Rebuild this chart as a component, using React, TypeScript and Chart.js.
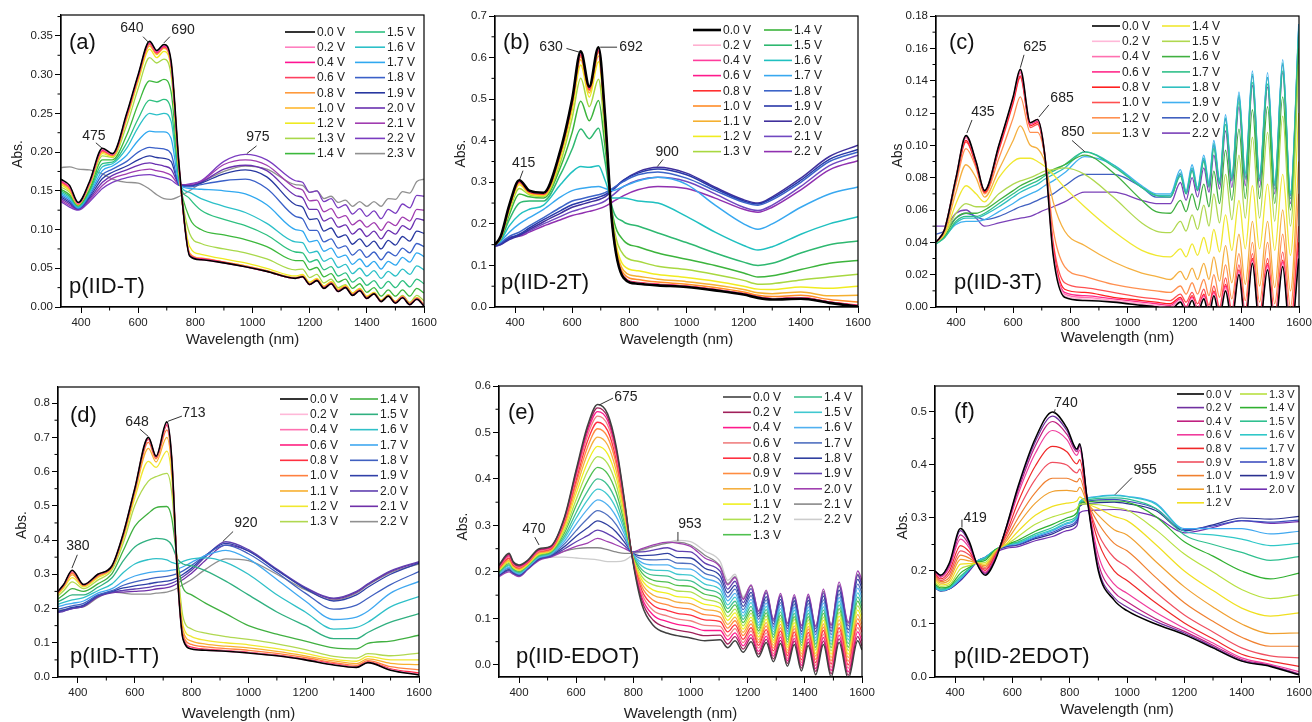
import React, { useEffect, useRef } from 'react';
import { Chart, registerables } from 'chart.js';
Chart.register(...registerables);

const FONT = '"Liberation Sans", Arial, Helvetica, sans-serif';

// ---------- shared axis ticks ----------
const X_TICKS = [400, 600, 800, 1000, 1200, 1400, 1600];
const X_MINOR = [500, 700, 900, 1100, 1300, 1500];

// ---------- (a) p(IID-T) ----------
const WL_A_VIS = [330, 360, 390, 430, 475, 510, 560, 600, 640, 665, 690, 715, 745, 780, 820, 900, 975, 1050, 1150];
const WL_A_NIR = [1175, 1200, 1225, 1250, 1275, 1300, 1325, 1350, 1375, 1400, 1425, 1450, 1475, 1500, 1525, 1550, 1575, 1600];
const V_A = ['0.0 V', '0.2 V', '0.4 V', '0.6 V', '0.8 V', '1.0 V', '1.2 V', '1.3 V', '1.4 V', '1.5 V', '1.6 V', '1.7 V', '1.8 V', '1.9 V', '2.0 V', '2.1 V', '2.2 V', '2.3 V'];
const ABS_A_VIS = [
  [0.165, 0.157, 0.135, 0.162, 0.205, 0.198, 0.250, 0.300, 0.343, 0.331, 0.339, 0.318, 0.175, 0.066, 0.061, 0.057, 0.052, 0.046, 0.037],
  [0.164, 0.156, 0.134, 0.161, 0.204, 0.197, 0.249, 0.299, 0.342, 0.330, 0.338, 0.316, 0.174, 0.067, 0.061, 0.057, 0.052, 0.046, 0.037],
  [0.163, 0.155, 0.134, 0.160, 0.203, 0.197, 0.248, 0.298, 0.341, 0.329, 0.337, 0.315, 0.173, 0.067, 0.062, 0.057, 0.052, 0.046, 0.037],
  [0.162, 0.154, 0.133, 0.160, 0.202, 0.196, 0.247, 0.297, 0.340, 0.328, 0.336, 0.314, 0.172, 0.068, 0.062, 0.058, 0.052, 0.046, 0.037],
  [0.161, 0.153, 0.133, 0.159, 0.201, 0.196, 0.246, 0.296, 0.339, 0.327, 0.335, 0.313, 0.171, 0.069, 0.063, 0.058, 0.053, 0.047, 0.038],
  [0.160, 0.152, 0.133, 0.159, 0.200, 0.195, 0.245, 0.295, 0.337, 0.326, 0.334, 0.312, 0.170, 0.070, 0.063, 0.058, 0.053, 0.047, 0.038],
  [0.158, 0.150, 0.132, 0.158, 0.198, 0.194, 0.242, 0.291, 0.333, 0.322, 0.330, 0.308, 0.168, 0.078, 0.068, 0.062, 0.057, 0.050, 0.040],
  [0.155, 0.148, 0.132, 0.156, 0.195, 0.193, 0.235, 0.282, 0.322, 0.315, 0.320, 0.300, 0.166, 0.095, 0.082, 0.075, 0.070, 0.062, 0.048],
  [0.152, 0.145, 0.131, 0.152, 0.190, 0.190, 0.222, 0.262, 0.292, 0.290, 0.294, 0.278, 0.163, 0.115, 0.100, 0.093, 0.087, 0.078, 0.060],
  [0.150, 0.143, 0.130, 0.150, 0.185, 0.187, 0.212, 0.243, 0.267, 0.265, 0.268, 0.255, 0.161, 0.140, 0.125, 0.113, 0.105, 0.093, 0.071],
  [0.148, 0.141, 0.129, 0.148, 0.181, 0.185, 0.205, 0.232, 0.250, 0.248, 0.250, 0.240, 0.160, 0.148, 0.140, 0.130, 0.122, 0.108, 0.084],
  [0.146, 0.139, 0.128, 0.146, 0.176, 0.182, 0.196, 0.215, 0.227, 0.226, 0.226, 0.218, 0.158, 0.153, 0.152, 0.150, 0.146, 0.132, 0.100],
  [0.144, 0.137, 0.127, 0.144, 0.171, 0.178, 0.188, 0.200, 0.206, 0.205, 0.204, 0.198, 0.157, 0.155, 0.158, 0.163, 0.165, 0.153, 0.117],
  [0.142, 0.135, 0.127, 0.142, 0.166, 0.174, 0.182, 0.190, 0.195, 0.193, 0.192, 0.188, 0.157, 0.156, 0.160, 0.172, 0.177, 0.168, 0.132],
  [0.140, 0.133, 0.126, 0.140, 0.161, 0.170, 0.177, 0.183, 0.186, 0.184, 0.182, 0.178, 0.158, 0.157, 0.161, 0.178, 0.183, 0.176, 0.144],
  [0.138, 0.131, 0.126, 0.138, 0.157, 0.166, 0.172, 0.176, 0.178, 0.176, 0.174, 0.170, 0.158, 0.158, 0.162, 0.184, 0.190, 0.183, 0.154],
  [0.136, 0.129, 0.125, 0.136, 0.153, 0.161, 0.167, 0.170, 0.171, 0.169, 0.167, 0.164, 0.157, 0.159, 0.163, 0.188, 0.197, 0.190, 0.163],
  [0.180, 0.181, 0.178, 0.177, 0.172, 0.165, 0.161, 0.160, 0.152, 0.145, 0.140, 0.139, 0.143, 0.150, 0.160, 0.175, 0.182, 0.178, 0.158],
];
const ABS_A_NIR = [
  [0.039, 0.029, 0.034, 0.024, 0.030, 0.020, 0.025, 0.015, 0.021, 0.011, 0.017, 0.007, 0.014, 0.005, 0.012, 0.003, 0.010, 0.001],
  [0.039, 0.029, 0.034, 0.024, 0.030, 0.020, 0.025, 0.015, 0.021, 0.011, 0.017, 0.007, 0.014, 0.005, 0.012, 0.003, 0.010, 0.001],
  [0.039, 0.029, 0.034, 0.025, 0.030, 0.020, 0.025, 0.015, 0.021, 0.011, 0.017, 0.007, 0.014, 0.005, 0.012, 0.003, 0.010, 0.002],
  [0.039, 0.029, 0.035, 0.025, 0.031, 0.021, 0.026, 0.016, 0.022, 0.012, 0.017, 0.007, 0.014, 0.006, 0.013, 0.004, 0.011, 0.002],
  [0.040, 0.030, 0.035, 0.025, 0.031, 0.021, 0.026, 0.016, 0.022, 0.012, 0.018, 0.008, 0.015, 0.006, 0.013, 0.004, 0.011, 0.002],
  [0.040, 0.030, 0.036, 0.026, 0.032, 0.022, 0.027, 0.017, 0.023, 0.013, 0.018, 0.008, 0.015, 0.007, 0.014, 0.005, 0.012, 0.003],
  [0.042, 0.032, 0.037, 0.027, 0.033, 0.023, 0.028, 0.018, 0.024, 0.014, 0.019, 0.009, 0.016, 0.007, 0.013, 0.004, 0.012, 0.003],
  [0.049, 0.038, 0.042, 0.031, 0.036, 0.025, 0.029, 0.018, 0.024, 0.013, 0.019, 0.008, 0.016, 0.007, 0.015, 0.006, 0.015, 0.008],
  [0.060, 0.048, 0.051, 0.039, 0.043, 0.032, 0.036, 0.024, 0.030, 0.019, 0.025, 0.014, 0.022, 0.014, 0.022, 0.014, 0.024, 0.018],
  [0.070, 0.058, 0.061, 0.048, 0.052, 0.040, 0.044, 0.032, 0.038, 0.028, 0.034, 0.024, 0.033, 0.025, 0.034, 0.026, 0.036, 0.030],
  [0.083, 0.070, 0.072, 0.059, 0.063, 0.051, 0.055, 0.043, 0.050, 0.040, 0.047, 0.037, 0.046, 0.040, 0.049, 0.042, 0.053, 0.048],
  [0.098, 0.084, 0.086, 0.072, 0.076, 0.064, 0.067, 0.055, 0.062, 0.052, 0.059, 0.049, 0.059, 0.054, 0.064, 0.058, 0.070, 0.065],
  [0.114, 0.099, 0.099, 0.084, 0.088, 0.076, 0.079, 0.067, 0.074, 0.064, 0.071, 0.061, 0.071, 0.066, 0.076, 0.070, 0.082, 0.078],
  [0.129, 0.113, 0.114, 0.098, 0.102, 0.090, 0.093, 0.081, 0.088, 0.078, 0.085, 0.075, 0.086, 0.080, 0.091, 0.085, 0.098, 0.095],
  [0.141, 0.126, 0.126, 0.111, 0.115, 0.103, 0.106, 0.094, 0.101, 0.091, 0.098, 0.088, 0.099, 0.094, 0.105, 0.100, 0.114, 0.112],
  [0.151, 0.137, 0.138, 0.123, 0.127, 0.115, 0.118, 0.106, 0.112, 0.103, 0.109, 0.099, 0.110, 0.105, 0.116, 0.111, 0.126, 0.125],
  [0.161, 0.148, 0.150, 0.136, 0.140, 0.128, 0.132, 0.120, 0.127, 0.117, 0.124, 0.114, 0.126, 0.121, 0.133, 0.128, 0.144, 0.143],
  [0.157, 0.148, 0.150, 0.140, 0.143, 0.135, 0.138, 0.130, 0.136, 0.130, 0.136, 0.130, 0.140, 0.139, 0.149, 0.147, 0.162, 0.165],
];
const COL_A = ['#000000', '#ff80c0', '#ff1493', '#ff4060', '#ff9a3c', '#ffb830', '#eeea20', '#a8d84a', '#3cb83c', '#2ec080', '#2cc0c8', '#30a8f0', '#3a60c8', '#2838a0', '#6a30b0', '#a03cb0', '#7a3cc0', '#909090'];
const YT_A = [0, 0.05, 0.1, 0.15, 0.2, 0.25, 0.3, 0.35];
const ANN_A = [
  { t: '640', x: 578, y: 0.3596, x1: 617, y1: 0.349, x2: 638, y2: 0.341 },
  { t: '690', x: 757, y: 0.357, x1: 711, y1: 0.349, x2: 690, y2: 0.341 },
  { t: '475', x: 445, y: 0.221, x1: 452, y1: 0.212, x2: 474, y2: 0.205 },
  { t: '975', x: 1019, y: 0.2196, x1: 1014, y1: 0.208, x2: 980, y2: 0.198 },
];

// ---------- (b) p(IID-2T) ----------
const WL_B = [330, 350, 380, 415, 450, 500, 560, 600, 630, 660, 692, 715, 740, 780, 830, 900, 1000, 1100, 1200, 1250, 1300, 1400, 1500, 1600];
const V_B = ['0.0 V', '0.2 V', '0.4 V', '0.6 V', '0.8 V', '1.0 V', '1.1 V', '1.2 V', '1.3 V', '1.4 V', '1.5 V', '1.6 V', '1.7 V', '1.8 V', '1.9 V', '2.0 V', '2.1 V', '2.2 V'];
const ABS_B = [
  [0.150, 0.170, 0.245, 0.305, 0.280, 0.275, 0.380, 0.500, 0.615, 0.530, 0.625, 0.460, 0.200, 0.070, 0.056, 0.052, 0.048, 0.040, 0.030, 0.022, 0.018, 0.020, 0.010, 0.001],
  [0.150, 0.169, 0.244, 0.304, 0.279, 0.274, 0.379, 0.499, 0.613, 0.529, 0.623, 0.458, 0.200, 0.071, 0.057, 0.053, 0.049, 0.041, 0.031, 0.023, 0.019, 0.021, 0.011, 0.002],
  [0.150, 0.169, 0.243, 0.303, 0.279, 0.274, 0.378, 0.497, 0.611, 0.528, 0.621, 0.456, 0.200, 0.072, 0.058, 0.054, 0.049, 0.041, 0.031, 0.023, 0.019, 0.021, 0.011, 0.003],
  [0.150, 0.168, 0.242, 0.302, 0.278, 0.273, 0.377, 0.495, 0.609, 0.526, 0.619, 0.454, 0.200, 0.072, 0.058, 0.054, 0.050, 0.042, 0.032, 0.024, 0.020, 0.022, 0.012, 0.003],
  [0.150, 0.168, 0.241, 0.301, 0.277, 0.272, 0.375, 0.493, 0.606, 0.524, 0.616, 0.452, 0.200, 0.073, 0.059, 0.055, 0.050, 0.042, 0.032, 0.024, 0.020, 0.022, 0.012, 0.004],
  [0.150, 0.167, 0.240, 0.300, 0.276, 0.271, 0.372, 0.490, 0.602, 0.521, 0.612, 0.450, 0.205, 0.080, 0.066, 0.060, 0.055, 0.047, 0.036, 0.028, 0.025, 0.028, 0.018, 0.012],
  [0.150, 0.167, 0.238, 0.298, 0.275, 0.270, 0.368, 0.484, 0.595, 0.515, 0.604, 0.446, 0.208, 0.088, 0.074, 0.067, 0.061, 0.053, 0.042, 0.034, 0.032, 0.036, 0.027, 0.028],
  [0.150, 0.166, 0.235, 0.294, 0.273, 0.268, 0.362, 0.474, 0.582, 0.505, 0.590, 0.438, 0.212, 0.100, 0.087, 0.078, 0.071, 0.062, 0.050, 0.043, 0.042, 0.048, 0.045, 0.050],
  [0.150, 0.165, 0.230, 0.285, 0.270, 0.266, 0.350, 0.455, 0.550, 0.482, 0.548, 0.415, 0.218, 0.125, 0.110, 0.098, 0.090, 0.078, 0.064, 0.055, 0.056, 0.065, 0.072, 0.079],
  [0.150, 0.164, 0.222, 0.272, 0.265, 0.262, 0.338, 0.420, 0.495, 0.448, 0.497, 0.385, 0.228, 0.160, 0.145, 0.130, 0.115, 0.100, 0.082, 0.072, 0.075, 0.090, 0.105, 0.112],
  [0.150, 0.162, 0.210, 0.250, 0.255, 0.255, 0.320, 0.380, 0.428, 0.405, 0.430, 0.350, 0.240, 0.205, 0.195, 0.178, 0.155, 0.130, 0.108, 0.100, 0.105, 0.130, 0.150, 0.159],
  [0.150, 0.160, 0.195, 0.222, 0.235, 0.245, 0.295, 0.325, 0.338, 0.336, 0.340, 0.305, 0.262, 0.262, 0.255, 0.250, 0.218, 0.180, 0.148, 0.137, 0.145, 0.175, 0.200, 0.217],
  [0.150, 0.158, 0.180, 0.200, 0.215, 0.235, 0.265, 0.280, 0.285, 0.288, 0.290, 0.285, 0.280, 0.290, 0.303, 0.312, 0.295, 0.245, 0.200, 0.187, 0.200, 0.240, 0.272, 0.289],
  [0.150, 0.155, 0.170, 0.180, 0.195, 0.215, 0.240, 0.255, 0.260, 0.265, 0.270, 0.275, 0.285, 0.302, 0.318, 0.325, 0.310, 0.280, 0.252, 0.245, 0.258, 0.300, 0.350, 0.373],
  [0.148, 0.152, 0.165, 0.175, 0.190, 0.210, 0.232, 0.246, 0.252, 0.258, 0.264, 0.270, 0.282, 0.305, 0.322, 0.332, 0.318, 0.285, 0.255, 0.248, 0.262, 0.305, 0.355, 0.379],
  [0.146, 0.150, 0.162, 0.172, 0.186, 0.205, 0.226, 0.240, 0.246, 0.252, 0.258, 0.265, 0.280, 0.305, 0.325, 0.336, 0.322, 0.288, 0.258, 0.250, 0.265, 0.310, 0.362, 0.389],
  [0.146, 0.150, 0.165, 0.172, 0.183, 0.200, 0.218, 0.230, 0.236, 0.242, 0.248, 0.255, 0.268, 0.290, 0.305, 0.312, 0.302, 0.272, 0.240, 0.232, 0.245, 0.290, 0.340, 0.365],
  [0.148, 0.152, 0.168, 0.170, 0.180, 0.195, 0.210, 0.220, 0.225, 0.230, 0.236, 0.242, 0.252, 0.268, 0.282, 0.290, 0.285, 0.262, 0.235, 0.228, 0.240, 0.282, 0.330, 0.352],
];
const COL_B = ['#000000', '#ffb0d0', '#ff3c9c', '#ff1a8c', '#ff3030', '#ff8c28', '#f5b030', '#f0ec20', '#a8d840', '#3cb43c', '#2eb870', '#20c0c0', '#38a8f0', '#3c64c8', '#2838a8', '#40309c', '#7048c0', '#9030b0'];
const YT_B = [0, 0.1, 0.2, 0.3, 0.4, 0.5, 0.6, 0.7];
const ANN_B = [
  { t: '630', x: 526, y: 0.625, x1: 580, y1: 0.622, x2: 625, y2: 0.613 },
  { t: '692', x: 806, y: 0.625, x1: 757, y1: 0.625, x2: 698, y2: 0.625 },
  { t: '415', x: 430, y: 0.346, x1: 428, y1: 0.328, x2: 417, y2: 0.308 },
  { t: '900', x: 932, y: 0.373, x1: 918, y1: 0.355, x2: 898, y2: 0.338 },
];

// ---------- (c) p(IID-3T) ----------
const WL_C_VIS = [330, 360, 400, 435, 470, 500, 550, 600, 625, 660, 685, 710, 740, 780, 850, 950, 1050, 1100];
const WL_C_NIR = [1150, 1185, 1205, 1226, 1245, 1267, 1285, 1302, 1322, 1343, 1365, 1390, 1412, 1437, 1462, 1490, 1515, 1543, 1570, 1599];
const V_C = ['0.0 V', '0.2 V', '0.4 V', '0.6 V', '0.8 V', '1.0 V', '1.2 V', '1.3 V', '1.4 V', '1.5 V', '1.6 V', '1.7 V', '1.8 V', '1.9 V', '2.0 V', '2.2 V'];
const ABS_C_VIS = [
  [0.040, 0.048, 0.080, 0.106, 0.090, 0.072, 0.100, 0.130, 0.147, 0.114, 0.116, 0.095, 0.032, 0.006, 0.004, 0.003, 0.001, 0.000],
  [0.040, 0.048, 0.080, 0.106, 0.090, 0.072, 0.100, 0.130, 0.147, 0.114, 0.116, 0.095, 0.033, 0.007, 0.005, 0.004, 0.002, 0.001],
  [0.040, 0.048, 0.080, 0.105, 0.090, 0.072, 0.100, 0.129, 0.146, 0.114, 0.116, 0.095, 0.034, 0.008, 0.006, 0.004, 0.002, 0.001],
  [0.040, 0.048, 0.080, 0.105, 0.089, 0.072, 0.099, 0.129, 0.145, 0.113, 0.115, 0.095, 0.035, 0.009, 0.007, 0.005, 0.003, 0.002],
  [0.040, 0.048, 0.079, 0.103, 0.088, 0.071, 0.098, 0.127, 0.143, 0.112, 0.114, 0.094, 0.037, 0.011, 0.009, 0.006, 0.004, 0.003],
  [0.040, 0.048, 0.079, 0.102, 0.088, 0.071, 0.097, 0.126, 0.142, 0.111, 0.113, 0.094, 0.040, 0.015, 0.012, 0.009, 0.006, 0.005],
  [0.040, 0.047, 0.076, 0.098, 0.086, 0.070, 0.092, 0.117, 0.130, 0.108, 0.108, 0.094, 0.048, 0.025, 0.019, 0.014, 0.011, 0.010],
  [0.040, 0.046, 0.071, 0.088, 0.080, 0.068, 0.085, 0.103, 0.112, 0.100, 0.098, 0.090, 0.065, 0.047, 0.038, 0.028, 0.021, 0.019],
  [0.040, 0.045, 0.064, 0.075, 0.070, 0.065, 0.080, 0.090, 0.092, 0.092, 0.090, 0.087, 0.082, 0.074, 0.062, 0.047, 0.035, 0.032],
  [0.040, 0.045, 0.058, 0.064, 0.062, 0.062, 0.070, 0.076, 0.078, 0.080, 0.082, 0.084, 0.085, 0.086, 0.082, 0.068, 0.052, 0.047],
  [0.040, 0.044, 0.055, 0.058, 0.058, 0.060, 0.066, 0.072, 0.075, 0.078, 0.080, 0.082, 0.085, 0.088, 0.094, 0.083, 0.066, 0.059],
  [0.039, 0.043, 0.053, 0.056, 0.056, 0.058, 0.064, 0.070, 0.073, 0.076, 0.078, 0.081, 0.084, 0.088, 0.096, 0.087, 0.074, 0.069],
  [0.039, 0.043, 0.052, 0.055, 0.055, 0.057, 0.062, 0.068, 0.071, 0.074, 0.076, 0.079, 0.082, 0.086, 0.096, 0.088, 0.074, 0.069],
  [0.041, 0.044, 0.051, 0.053, 0.053, 0.054, 0.059, 0.064, 0.067, 0.070, 0.072, 0.075, 0.078, 0.083, 0.093, 0.088, 0.075, 0.070],
  [0.045, 0.047, 0.055, 0.058, 0.056, 0.054, 0.056, 0.060, 0.062, 0.064, 0.066, 0.068, 0.070, 0.075, 0.082, 0.082, 0.074, 0.068],
  [0.050, 0.050, 0.058, 0.060, 0.055, 0.050, 0.052, 0.054, 0.055, 0.056, 0.058, 0.060, 0.062, 0.065, 0.071, 0.071, 0.066, 0.064],
];
const ABS_C_NIR = [
  [-0.002, 0.003, -0.003, 0.004, -0.004, 0.005, -0.005, 0.007, -0.006, 0.010, -0.008, 0.020, -0.010, 0.027, -0.012, 0.023, -0.015, 0.025, -0.020, 0.030],
  [-0.001, 0.004, -0.002, 0.005, -0.003, 0.006, -0.004, 0.008, -0.005, 0.011, -0.007, 0.021, -0.009, 0.028, -0.011, 0.024, -0.014, 0.026, -0.019, 0.032],
  [0.000, 0.004, -0.001, 0.005, -0.002, 0.006, -0.003, 0.008, -0.004, 0.012, -0.006, 0.022, -0.008, 0.028, -0.010, 0.025, -0.013, 0.027, -0.018, 0.034],
  [0.001, 0.005, 0.000, 0.006, -0.001, 0.007, -0.002, 0.009, -0.003, 0.013, -0.005, 0.022, -0.007, 0.029, -0.009, 0.026, -0.011, 0.028, -0.016, 0.036],
  [0.002, 0.006, 0.000, 0.007, -0.001, 0.008, -0.002, 0.010, -0.003, 0.014, -0.005, 0.023, -0.006, 0.030, -0.008, 0.027, -0.010, 0.029, -0.014, 0.040],
  [0.004, 0.008, 0.003, 0.009, 0.002, 0.011, 0.001, 0.013, 0.000, 0.018, -0.002, 0.026, -0.003, 0.033, -0.004, 0.030, -0.006, 0.034, -0.010, 0.050],
  [0.009, 0.013, 0.008, 0.015, 0.008, 0.017, 0.007, 0.020, 0.006, 0.026, 0.005, 0.033, 0.004, 0.040, 0.003, 0.040, 0.002, 0.045, 0.000, 0.070],
  [0.017, 0.022, 0.017, 0.024, 0.017, 0.027, 0.017, 0.031, 0.016, 0.038, 0.015, 0.045, 0.014, 0.053, 0.013, 0.053, 0.012, 0.060, 0.010, 0.090],
  [0.031, 0.036, 0.031, 0.039, 0.032, 0.043, 0.033, 0.048, 0.034, 0.057, 0.035, 0.066, 0.036, 0.075, 0.036, 0.076, 0.035, 0.082, 0.032, 0.120],
  [0.046, 0.053, 0.047, 0.057, 0.048, 0.063, 0.050, 0.070, 0.052, 0.082, 0.054, 0.094, 0.055, 0.105, 0.055, 0.108, 0.053, 0.118, 0.050, 0.150],
  [0.058, 0.066, 0.059, 0.070, 0.060, 0.076, 0.062, 0.084, 0.064, 0.097, 0.066, 0.110, 0.067, 0.122, 0.067, 0.124, 0.064, 0.130, 0.060, 0.160],
  [0.068, 0.081, 0.070, 0.084, 0.072, 0.090, 0.074, 0.098, 0.076, 0.113, 0.078, 0.127, 0.079, 0.139, 0.078, 0.138, 0.073, 0.146, 0.067, 0.168],
  [0.069, 0.083, 0.071, 0.086, 0.073, 0.092, 0.076, 0.101, 0.078, 0.117, 0.080, 0.131, 0.082, 0.144, 0.080, 0.142, 0.076, 0.151, 0.070, 0.172],
  [0.070, 0.085, 0.072, 0.088, 0.074, 0.094, 0.077, 0.103, 0.079, 0.119, 0.081, 0.133, 0.083, 0.146, 0.081, 0.145, 0.077, 0.153, 0.071, 0.175],
  [0.068, 0.082, 0.070, 0.085, 0.072, 0.091, 0.075, 0.100, 0.077, 0.116, 0.079, 0.130, 0.080, 0.143, 0.079, 0.142, 0.075, 0.150, 0.069, 0.172],
  [0.064, 0.077, 0.066, 0.080, 0.068, 0.086, 0.071, 0.094, 0.073, 0.109, 0.074, 0.124, 0.075, 0.137, 0.074, 0.136, 0.070, 0.145, 0.064, 0.165],
];
const COL_C = ['#000000', '#ffb8d8', '#ff70b0', '#ff2a8a', '#ff2020', '#ff5050', '#ff9050', '#f5b040', '#f0e830', '#b0d850', '#40b040', '#30c08a', '#30c0c0', '#40b0f0', '#4060c0', '#7a40b8'];
const YT_C = [0, 0.02, 0.04, 0.06, 0.08, 0.1, 0.12, 0.14, 0.16, 0.18];
const ANN_C = [
  { t: '625', x: 676, y: 0.161, x1: 638, y1: 0.156, x2: 625, y2: 0.148 },
  { t: '685', x: 771, y: 0.129, x1: 725, y1: 0.125, x2: 690, y2: 0.1175 },
  { t: '435', x: 494, y: 0.1206, x1: 456, y1: 0.1157, x2: 438, y2: 0.1076 },
  { t: '850', x: 809, y: 0.108, x1: 806, y1: 0.103, x2: 851, y2: 0.096 },
];

// ---------- (d) p(IID-TT) ----------
const WL_D = [330, 350, 380, 420, 470, 520, 560, 600, 648, 675, 713, 730, 750, 770, 800, 850, 920, 1000, 1100, 1200, 1300, 1380, 1420, 1500, 1600];
const V_D = ['0.0 V', '0.2 V', '0.4 V', '0.6 V', '0.8 V', '1.0 V', '1.1 V', '1.2 V', '1.3 V', '1.4 V', '1.5 V', '1.6 V', '1.7 V', '1.8 V', '1.9 V', '2.0 V', '2.1 V', '2.2 V'];
const ABS_D = [
  [0.250, 0.270, 0.312, 0.270, 0.300, 0.325, 0.420, 0.550, 0.700, 0.645, 0.745, 0.640, 0.300, 0.110, 0.082, 0.078, 0.075, 0.070, 0.062, 0.050, 0.035, 0.028, 0.042, 0.020, 0.006],
  [0.250, 0.270, 0.311, 0.270, 0.300, 0.325, 0.420, 0.550, 0.699, 0.645, 0.743, 0.640, 0.300, 0.111, 0.083, 0.078, 0.075, 0.070, 0.062, 0.050, 0.036, 0.028, 0.042, 0.021, 0.007],
  [0.249, 0.269, 0.310, 0.270, 0.299, 0.324, 0.419, 0.549, 0.698, 0.644, 0.741, 0.638, 0.300, 0.112, 0.084, 0.079, 0.076, 0.071, 0.063, 0.051, 0.036, 0.029, 0.043, 0.021, 0.007],
  [0.249, 0.269, 0.309, 0.270, 0.299, 0.324, 0.418, 0.548, 0.696, 0.643, 0.738, 0.636, 0.300, 0.113, 0.085, 0.080, 0.076, 0.071, 0.063, 0.051, 0.037, 0.029, 0.043, 0.022, 0.008],
  [0.248, 0.268, 0.308, 0.269, 0.298, 0.323, 0.417, 0.547, 0.694, 0.642, 0.735, 0.634, 0.302, 0.115, 0.087, 0.081, 0.077, 0.072, 0.064, 0.052, 0.038, 0.030, 0.044, 0.024, 0.012],
  [0.246, 0.266, 0.303, 0.268, 0.296, 0.322, 0.414, 0.542, 0.685, 0.637, 0.722, 0.625, 0.305, 0.125, 0.095, 0.088, 0.083, 0.078, 0.069, 0.057, 0.042, 0.034, 0.048, 0.030, 0.021],
  [0.244, 0.264, 0.298, 0.266, 0.294, 0.320, 0.410, 0.535, 0.668, 0.628, 0.700, 0.610, 0.310, 0.135, 0.105, 0.096, 0.090, 0.085, 0.075, 0.062, 0.047, 0.039, 0.053, 0.040, 0.036],
  [0.241, 0.260, 0.290, 0.263, 0.290, 0.318, 0.404, 0.522, 0.630, 0.612, 0.660, 0.585, 0.318, 0.150, 0.118, 0.107, 0.100, 0.094, 0.083, 0.069, 0.052, 0.046, 0.060, 0.050, 0.050],
  [0.236, 0.252, 0.278, 0.258, 0.283, 0.313, 0.392, 0.500, 0.572, 0.585, 0.595, 0.540, 0.330, 0.175, 0.140, 0.128, 0.118, 0.110, 0.097, 0.080, 0.060, 0.055, 0.068, 0.062, 0.070],
  [0.228, 0.240, 0.258, 0.250, 0.272, 0.302, 0.370, 0.440, 0.478, 0.495, 0.498, 0.465, 0.340, 0.260, 0.240, 0.215, 0.185, 0.150, 0.125, 0.105, 0.085, 0.082, 0.098, 0.105, 0.122],
  [0.220, 0.228, 0.240, 0.240, 0.262, 0.290, 0.340, 0.380, 0.400, 0.405, 0.400, 0.385, 0.345, 0.330, 0.325, 0.310, 0.280, 0.240, 0.190, 0.150, 0.112, 0.112, 0.130, 0.160, 0.185],
  [0.212, 0.218, 0.225, 0.232, 0.252, 0.272, 0.305, 0.330, 0.343, 0.346, 0.342, 0.335, 0.330, 0.338, 0.345, 0.348, 0.335, 0.300, 0.240, 0.190, 0.140, 0.145, 0.160, 0.205, 0.235],
  [0.205, 0.210, 0.215, 0.222, 0.245, 0.258, 0.280, 0.295, 0.305, 0.308, 0.310, 0.312, 0.315, 0.322, 0.335, 0.355, 0.370, 0.345, 0.285, 0.222, 0.168, 0.175, 0.192, 0.245, 0.279],
  [0.198, 0.202, 0.208, 0.215, 0.240, 0.252, 0.268, 0.278, 0.286, 0.290, 0.294, 0.297, 0.302, 0.310, 0.326, 0.356, 0.385, 0.360, 0.305, 0.245, 0.198, 0.210, 0.230, 0.270, 0.308],
  [0.192, 0.196, 0.203, 0.210, 0.238, 0.250, 0.260, 0.266, 0.272, 0.276, 0.280, 0.283, 0.290, 0.300, 0.318, 0.355, 0.390, 0.368, 0.312, 0.258, 0.222, 0.240, 0.262, 0.300, 0.333],
  [0.188, 0.192, 0.200, 0.207, 0.236, 0.248, 0.253, 0.257, 0.262, 0.266, 0.270, 0.274, 0.282, 0.293, 0.312, 0.352, 0.395, 0.372, 0.315, 0.262, 0.230, 0.250, 0.272, 0.310, 0.337],
  [0.190, 0.193, 0.200, 0.206, 0.234, 0.246, 0.248, 0.250, 0.253, 0.257, 0.261, 0.265, 0.273, 0.285, 0.303, 0.342, 0.385, 0.368, 0.313, 0.260, 0.228, 0.248, 0.270, 0.308, 0.335],
  [0.195, 0.197, 0.202, 0.205, 0.232, 0.248, 0.245, 0.242, 0.242, 0.245, 0.248, 0.252, 0.260, 0.270, 0.285, 0.315, 0.345, 0.340, 0.300, 0.255, 0.225, 0.245, 0.268, 0.305, 0.330],
];
const COL_D = ['#000000', '#ffb8d8', '#ff70b0', '#ff2080', '#ff3040', '#ff8040', '#f8b030', '#f0e830', '#b0d850', '#40b040', '#30b080', '#30c0c8', '#40a8f0', '#4060c0', '#3040a8', '#6040b0', '#7030a8', '#909090'];
const YT_D = [0, 0.1, 0.2, 0.3, 0.4, 0.5, 0.6, 0.7, 0.8];
const ANN_D = [
  { t: '648', x: 608, y: 0.744, x1: 618, y1: 0.724, x2: 647, y2: 0.703 },
  { t: '713', x: 808, y: 0.771, x1: 766, y1: 0.762, x2: 717, y2: 0.747 },
  { t: '380', x: 400, y: 0.381, x1: 398, y1: 0.357, x2: 379, y2: 0.318 },
  { t: '920', x: 991, y: 0.448, x1: 946, y1: 0.425, x2: 910, y2: 0.396 },
];

// ---------- (e) p(IID-EDOT) ----------
const WL_E_VIS = [330, 365, 380, 400, 430, 470, 510, 560, 600, 640, 675, 710, 740, 770, 795, 830, 870, 920, 953, 1000, 1050];
const WL_E_NIR = [1104, 1130, 1156, 1184, 1212, 1238, 1265, 1290, 1315, 1339, 1363, 1388, 1412, 1438, 1465, 1492, 1520, 1552, 1585, 1600];
const V_E = ['0.0 V', '0.2 V', '0.4 V', '0.6 V', '0.8 V', '0.9 V', '1.0 V', '1.1 V', '1.2 V', '1.3 V', '1.4 V', '1.5 V', '1.6 V', '1.7 V', '1.8 V', '1.9 V', '2.0 V', '2.1 V', '2.2 V'];
const ABS_E_VIS = [
  [0.215, 0.240, 0.222, 0.215, 0.225, 0.250, 0.255, 0.320, 0.420, 0.515, 0.560, 0.540, 0.470, 0.350, 0.235, 0.130, 0.085, 0.068, 0.063, 0.058, 0.052],
  [0.213, 0.238, 0.220, 0.213, 0.224, 0.248, 0.254, 0.318, 0.416, 0.509, 0.553, 0.533, 0.465, 0.348, 0.236, 0.138, 0.096, 0.080, 0.075, 0.070, 0.063],
  [0.212, 0.235, 0.219, 0.212, 0.222, 0.247, 0.252, 0.316, 0.411, 0.502, 0.545, 0.526, 0.459, 0.345, 0.236, 0.145, 0.107, 0.093, 0.087, 0.083, 0.074],
  [0.210, 0.233, 0.217, 0.210, 0.221, 0.245, 0.251, 0.313, 0.406, 0.493, 0.535, 0.516, 0.452, 0.341, 0.237, 0.153, 0.117, 0.105, 0.099, 0.095, 0.085],
  [0.209, 0.230, 0.215, 0.209, 0.220, 0.244, 0.249, 0.310, 0.398, 0.482, 0.522, 0.504, 0.442, 0.337, 0.237, 0.160, 0.128, 0.117, 0.111, 0.107, 0.097],
  [0.207, 0.228, 0.214, 0.207, 0.219, 0.242, 0.248, 0.306, 0.390, 0.469, 0.508, 0.490, 0.432, 0.332, 0.238, 0.168, 0.139, 0.129, 0.123, 0.120, 0.108],
  [0.206, 0.225, 0.212, 0.206, 0.218, 0.241, 0.246, 0.302, 0.380, 0.454, 0.490, 0.473, 0.418, 0.326, 0.238, 0.175, 0.150, 0.142, 0.135, 0.132, 0.119],
  [0.204, 0.223, 0.210, 0.204, 0.216, 0.239, 0.245, 0.297, 0.369, 0.436, 0.470, 0.454, 0.404, 0.319, 0.239, 0.183, 0.161, 0.154, 0.147, 0.144, 0.130],
  [0.203, 0.220, 0.209, 0.203, 0.215, 0.238, 0.244, 0.291, 0.356, 0.417, 0.448, 0.433, 0.388, 0.311, 0.239, 0.190, 0.172, 0.166, 0.159, 0.157, 0.141],
  [0.201, 0.218, 0.207, 0.201, 0.214, 0.236, 0.242, 0.285, 0.343, 0.396, 0.425, 0.411, 0.371, 0.303, 0.240, 0.198, 0.182, 0.178, 0.171, 0.169, 0.152],
  [0.199, 0.215, 0.205, 0.199, 0.213, 0.234, 0.241, 0.278, 0.328, 0.374, 0.400, 0.387, 0.352, 0.294, 0.240, 0.205, 0.193, 0.191, 0.183, 0.181, 0.163],
  [0.198, 0.213, 0.203, 0.198, 0.211, 0.233, 0.239, 0.273, 0.316, 0.355, 0.378, 0.366, 0.336, 0.287, 0.241, 0.213, 0.204, 0.203, 0.195, 0.193, 0.174],
  [0.196, 0.210, 0.202, 0.196, 0.210, 0.231, 0.238, 0.267, 0.303, 0.335, 0.355, 0.344, 0.319, 0.279, 0.241, 0.220, 0.215, 0.215, 0.207, 0.206, 0.186],
  [0.195, 0.208, 0.200, 0.195, 0.209, 0.230, 0.236, 0.261, 0.289, 0.315, 0.332, 0.322, 0.302, 0.271, 0.242, 0.228, 0.226, 0.227, 0.219, 0.218, 0.197],
  [0.193, 0.205, 0.198, 0.193, 0.208, 0.228, 0.235, 0.255, 0.277, 0.295, 0.310, 0.301, 0.286, 0.263, 0.242, 0.235, 0.236, 0.240, 0.231, 0.230, 0.208],
  [0.192, 0.203, 0.197, 0.192, 0.206, 0.227, 0.233, 0.250, 0.265, 0.278, 0.290, 0.282, 0.271, 0.256, 0.243, 0.243, 0.247, 0.252, 0.245, 0.243, 0.219],
  [0.190, 0.200, 0.195, 0.190, 0.205, 0.225, 0.232, 0.245, 0.255, 0.262, 0.272, 0.265, 0.258, 0.250, 0.243, 0.250, 0.258, 0.264, 0.262, 0.255, 0.230],
  [0.192, 0.205, 0.198, 0.195, 0.210, 0.228, 0.235, 0.245, 0.250, 0.252, 0.252, 0.248, 0.243, 0.240, 0.240, 0.248, 0.255, 0.262, 0.264, 0.258, 0.236],
  [0.200, 0.208, 0.205, 0.205, 0.215, 0.228, 0.232, 0.232, 0.230, 0.228, 0.226, 0.222, 0.222, 0.225, 0.235, 0.245, 0.255, 0.263, 0.268, 0.265, 0.245],
];
const ABS_E_NIR = [
  [0.054, 0.037, 0.052, 0.027, 0.050, 0.017, 0.048, 0.007, 0.046, -0.003, 0.044, -0.013, 0.042, -0.021, 0.044, -0.026, 0.048, -0.030, 0.052, 0.032],
  [0.064, 0.045, 0.061, 0.034, 0.058, 0.023, 0.055, 0.013, 0.053, 0.003, 0.051, -0.007, 0.049, -0.014, 0.051, -0.019, 0.056, -0.022, 0.061, 0.041],
  [0.074, 0.054, 0.069, 0.041, 0.065, 0.029, 0.062, 0.019, 0.060, 0.009, 0.057, -0.001, 0.056, -0.008, 0.059, -0.012, 0.064, -0.015, 0.071, 0.051],
  [0.083, 0.062, 0.078, 0.048, 0.073, 0.036, 0.069, 0.024, 0.066, 0.014, 0.064, 0.005, 0.063, -0.001, 0.066, -0.005, 0.072, -0.007, 0.080, 0.060],
  [0.093, 0.071, 0.086, 0.055, 0.080, 0.042, 0.076, 0.030, 0.073, 0.020, 0.071, 0.011, 0.070, 0.005, 0.074, 0.002, 0.080, 0.000, 0.090, 0.070],
  [0.103, 0.079, 0.095, 0.063, 0.088, 0.048, 0.084, 0.036, 0.080, 0.026, 0.078, 0.018, 0.077, 0.012, 0.081, 0.009, 0.089, 0.008, 0.099, 0.079],
  [0.113, 0.087, 0.103, 0.070, 0.096, 0.054, 0.091, 0.042, 0.087, 0.032, 0.084, 0.024, 0.083, 0.019, 0.088, 0.016, 0.097, 0.016, 0.108, 0.088],
  [0.123, 0.096, 0.112, 0.077, 0.103, 0.060, 0.098, 0.048, 0.094, 0.038, 0.091, 0.030, 0.090, 0.025, 0.096, 0.023, 0.105, 0.023, 0.118, 0.098],
  [0.132, 0.104, 0.120, 0.084, 0.111, 0.067, 0.105, 0.053, 0.100, 0.043, 0.098, 0.036, 0.097, 0.032, 0.103, 0.030, 0.113, 0.031, 0.127, 0.107],
  [0.142, 0.113, 0.129, 0.091, 0.118, 0.073, 0.112, 0.059, 0.107, 0.049, 0.104, 0.042, 0.104, 0.038, 0.111, 0.037, 0.121, 0.038, 0.137, 0.117],
  [0.152, 0.121, 0.137, 0.098, 0.126, 0.079, 0.119, 0.065, 0.114, 0.055, 0.111, 0.048, 0.111, 0.045, 0.118, 0.044, 0.129, 0.046, 0.146, 0.126],
  [0.162, 0.129, 0.146, 0.105, 0.134, 0.085, 0.126, 0.071, 0.121, 0.061, 0.118, 0.054, 0.118, 0.052, 0.125, 0.051, 0.137, 0.054, 0.155, 0.135],
  [0.172, 0.138, 0.154, 0.112, 0.141, 0.091, 0.133, 0.077, 0.128, 0.067, 0.124, 0.060, 0.125, 0.058, 0.133, 0.058, 0.145, 0.061, 0.165, 0.145],
  [0.181, 0.146, 0.163, 0.119, 0.149, 0.098, 0.140, 0.082, 0.134, 0.072, 0.131, 0.066, 0.132, 0.065, 0.140, 0.065, 0.153, 0.069, 0.174, 0.154],
  [0.191, 0.155, 0.171, 0.126, 0.156, 0.104, 0.147, 0.088, 0.141, 0.078, 0.138, 0.072, 0.139, 0.071, 0.148, 0.072, 0.161, 0.076, 0.184, 0.164],
  [0.201, 0.163, 0.180, 0.134, 0.164, 0.110, 0.155, 0.094, 0.148, 0.084, 0.145, 0.079, 0.146, 0.078, 0.155, 0.079, 0.170, 0.084, 0.193, 0.173],
  [0.210, 0.172, 0.188, 0.141, 0.172, 0.116, 0.161, 0.099, 0.154, 0.090, 0.151, 0.085, 0.152, 0.084, 0.163, 0.086, 0.178, 0.092, 0.202, 0.182],
  [0.212, 0.175, 0.190, 0.143, 0.170, 0.115, 0.158, 0.098, 0.150, 0.089, 0.147, 0.084, 0.148, 0.083, 0.158, 0.085, 0.172, 0.090, 0.195, 0.176],
  [0.222, 0.182, 0.195, 0.147, 0.170, 0.116, 0.155, 0.098, 0.147, 0.089, 0.144, 0.084, 0.145, 0.083, 0.153, 0.085, 0.168, 0.089, 0.190, 0.172],
];
const COL_E = ['#404040', '#a0205a', '#ff1a8c', '#f08080', '#ff3040', '#ff8c40', '#f5b040', '#f0f020', '#b0e050', '#50c050', '#40c090', '#40c8d0', '#50b0f0', '#5070c0', '#3040a0', '#6040b0', '#a040b0', '#888888', '#cccccc'];
const YT_E = [0, 0.1, 0.2, 0.3, 0.4, 0.5, 0.6];
const ANN_E = [
  { t: '675', x: 774, y: 0.576, x1: 729, y1: 0.574, x2: 680, y2: 0.559 },
  { t: '470', x: 452, y: 0.292, x1: 455, y1: 0.275, x2: 470, y2: 0.258 },
  { t: '953', x: 998, y: 0.303, x1: 956, y1: 0.286, x2: 956, y2: 0.267 },
];

// ---------- (f) p(IID-2EDOT) ----------
const WL_F = [330, 350, 380, 419, 450, 475, 505, 540, 580, 620, 680, 740, 790, 825, 835, 860, 900, 955, 1000, 1100, 1200, 1300, 1400, 1500, 1600];
const V_F = ['0.0 V', '0.2 V', '0.4 V', '0.6 V', '0.8 V', '0.9 V', '1.0 V', '1.1 V', '1.2 V', '1.3 V', '1.4 V', '1.5 V', '1.6 V', '1.7 V', '1.8 V', '1.9 V', '2.0 V'];
const ABS_F = [
  [0.200, 0.192, 0.215, 0.280, 0.255, 0.215, 0.192, 0.220, 0.285, 0.360, 0.450, 0.500, 0.470, 0.430, 0.440, 0.340, 0.200, 0.145, 0.125, 0.100, 0.080, 0.055, 0.030, 0.020, 0.004],
  [0.200, 0.192, 0.213, 0.276, 0.252, 0.215, 0.194, 0.222, 0.285, 0.357, 0.444, 0.492, 0.465, 0.428, 0.438, 0.340, 0.205, 0.150, 0.132, 0.105, 0.083, 0.057, 0.031, 0.021, 0.005],
  [0.200, 0.190, 0.210, 0.268, 0.248, 0.215, 0.196, 0.224, 0.283, 0.352, 0.436, 0.482, 0.458, 0.425, 0.435, 0.340, 0.215, 0.160, 0.142, 0.110, 0.086, 0.060, 0.033, 0.022, 0.006],
  [0.198, 0.188, 0.206, 0.260, 0.243, 0.215, 0.198, 0.226, 0.280, 0.345, 0.422, 0.465, 0.448, 0.418, 0.428, 0.340, 0.230, 0.175, 0.158, 0.122, 0.092, 0.064, 0.036, 0.024, 0.010],
  [0.196, 0.185, 0.200, 0.248, 0.236, 0.215, 0.201, 0.228, 0.273, 0.330, 0.398, 0.435, 0.425, 0.402, 0.410, 0.338, 0.255, 0.200, 0.182, 0.140, 0.102, 0.072, 0.043, 0.030, 0.020],
  [0.194, 0.182, 0.194, 0.238, 0.230, 0.215, 0.204, 0.230, 0.268, 0.315, 0.373, 0.405, 0.400, 0.385, 0.392, 0.335, 0.270, 0.225, 0.208, 0.160, 0.117, 0.085, 0.055, 0.040, 0.036],
  [0.190, 0.180, 0.188, 0.230, 0.224, 0.215, 0.207, 0.232, 0.262, 0.300, 0.348, 0.375, 0.375, 0.368, 0.375, 0.332, 0.290, 0.252, 0.238, 0.188, 0.140, 0.105, 0.075, 0.058, 0.058],
  [0.186, 0.177, 0.183, 0.222, 0.219, 0.215, 0.210, 0.234, 0.257, 0.288, 0.328, 0.350, 0.352, 0.350, 0.358, 0.330, 0.305, 0.278, 0.268, 0.218, 0.170, 0.132, 0.100, 0.082, 0.083],
  [0.182, 0.174, 0.178, 0.213, 0.214, 0.215, 0.213, 0.236, 0.252, 0.275, 0.305, 0.322, 0.328, 0.332, 0.340, 0.328, 0.318, 0.303, 0.295, 0.250, 0.200, 0.163, 0.130, 0.115, 0.121],
  [0.178, 0.171, 0.174, 0.204, 0.210, 0.215, 0.216, 0.238, 0.250, 0.265, 0.288, 0.302, 0.310, 0.318, 0.326, 0.326, 0.325, 0.320, 0.315, 0.278, 0.232, 0.198, 0.165, 0.148, 0.155],
  [0.175, 0.168, 0.171, 0.196, 0.207, 0.216, 0.220, 0.240, 0.250, 0.258, 0.275, 0.288, 0.300, 0.310, 0.326, 0.330, 0.332, 0.332, 0.330, 0.303, 0.255, 0.228, 0.200, 0.185, 0.196],
  [0.172, 0.166, 0.170, 0.190, 0.205, 0.217, 0.223, 0.240, 0.250, 0.255, 0.270, 0.282, 0.295, 0.305, 0.328, 0.334, 0.337, 0.338, 0.336, 0.318, 0.268, 0.250, 0.235, 0.220, 0.227],
  [0.170, 0.164, 0.168, 0.187, 0.204, 0.218, 0.225, 0.240, 0.249, 0.253, 0.267, 0.278, 0.291, 0.302, 0.330, 0.337, 0.340, 0.342, 0.340, 0.326, 0.275, 0.268, 0.260, 0.248, 0.252],
  [0.168, 0.163, 0.167, 0.185, 0.203, 0.218, 0.226, 0.240, 0.248, 0.252, 0.265, 0.276, 0.289, 0.300, 0.330, 0.338, 0.341, 0.343, 0.341, 0.328, 0.280, 0.280, 0.280, 0.270, 0.275],
  [0.168, 0.163, 0.167, 0.184, 0.203, 0.218, 0.226, 0.239, 0.247, 0.250, 0.263, 0.273, 0.285, 0.296, 0.326, 0.332, 0.334, 0.335, 0.332, 0.318, 0.278, 0.285, 0.295, 0.292, 0.296],
  [0.168, 0.162, 0.166, 0.183, 0.202, 0.218, 0.226, 0.238, 0.246, 0.249, 0.261, 0.270, 0.282, 0.292, 0.322, 0.327, 0.329, 0.330, 0.327, 0.314, 0.276, 0.287, 0.300, 0.298, 0.303],
  [0.170, 0.164, 0.166, 0.182, 0.200, 0.216, 0.224, 0.235, 0.243, 0.246, 0.257, 0.265, 0.276, 0.285, 0.310, 0.314, 0.315, 0.316, 0.314, 0.302, 0.272, 0.282, 0.295, 0.290, 0.293],
];
const COL_F = ['#000000', '#7030a0', '#c02080', '#f03c9c', '#f02828', '#f05060', '#f08030', '#f0a030', '#f0e020', '#b8e040', '#30b030', '#30c090', '#30c8c8', '#40a8f0', '#4050c0', '#2a3090', '#7030b0'];
const YT_F = [0, 0.1, 0.2, 0.3, 0.4, 0.5];
const ANN_F = [
  { t: '740', x: 787, y: 0.516, x1: 749, y1: 0.505, x2: 746, y2: 0.497 },
  { t: '419', x: 470, y: 0.299, x1: 424, y1: 0.297, x2: 424, y2: 0.282 },
  { t: '955', x: 1063, y: 0.391, x1: 1017, y1: 0.376, x2: 958, y2: 0.344 },
];

// ---------- layout ----------
const AXW = 55;
const PADT = 10;
const PADR = 16;
const XAH = 45;

const join = (a: number[][], b: number[][]) => a.map((r, i) => r.concat(b[i]));

const PANELS: any[] = [
  { key: 'a', L: 61, T: 15, R: 424, B: 307, wl: WL_A_VIS.concat(WL_A_NIR), rows: join(ABS_A_VIS, ABS_A_NIR), labels: V_A, colors: COL_A, yt: YT_A, ymin: 0, ymax: 0.377, dec: 2, ann: ANN_A,
    letter: '(a)', name: 'p(IID-T)', lDx: 8, lDy: 28, nDx: 8, nDy: 20, yTitle: 'Abs.', yTx: 43, yTy: -7, xTy: 33,
    leg: { c1: 139, c2: 69, y0: 17, step: 15.2, len: 30, n1: 9, font: 12 }, lw: 1.3, lw0: 1.6 },
  { key: 'b', L: 495, T: 16, R: 858, B: 307, wl: WL_B, rows: ABS_B, labels: V_B, colors: COL_B, yt: YT_B, ymin: 0, ymax: 0.7, dec: 1, ann: ANN_B,
    letter: '(b)', name: 'p(IID-2T)', lDx: 8, lDy: 27, nDx: 6, nDy: 24, yTitle: 'Abs.', yTx: 34, yTy: -8, xTy: 33,
    leg: { c1: 165, c2: 94, y0: 14, step: 15.2, len: 28, n1: 9, font: 12 }, lw: 1.5, lw0: 2.6 },
  { key: 'c', L: 936, T: 16, R: 1299, B: 307, wl: WL_C_VIS.concat(WL_C_NIR), rows: join(ABS_C_VIS, ABS_C_NIR), labels: V_C, colors: COL_C, yt: YT_C, ymin: 0, ymax: 0.18, dec: 2, ann: ANN_C,
    letter: '(c)', name: 'p(IID-3T)', lDx: 13, lDy: 27, nDx: 18, nDy: 24, yTitle: 'Abs', yTx: 38, yTy: -6, xTy: 31,
    leg: { c1: 207, c2: 137, y0: 10, step: 15.3, len: 28, n1: 8, font: 12 }, lw: 1.3, lw0: 1.6 },
  { key: 'd', L: 58, T: 387, R: 419, B: 677, wl: WL_D, rows: ABS_D, labels: V_D, colors: COL_D, yt: YT_D, ymin: 0, ymax: 0.847, dec: 1, ann: ANN_D,
    letter: '(d)', name: 'p(IID-TT)', lDx: 12, lDy: 29, nDx: 12, nDy: 20, yTitle: 'Abs.', yTx: 36, yTy: -7, xTy: 37,
    leg: { c1: 139, c2: 69, y0: 12, step: 15.33, len: 28, n1: 9, font: 12 }, lw: 1.3, lw0: 1.6 },
  { key: 'e', L: 499, T: 386, R: 862, B: 677, wl: WL_E_VIS.concat(WL_E_NIR), rows: join(ABS_E_VIS, ABS_E_NIR), labels: V_E, colors: COL_E, yt: YT_E, ymin: -0.026, ymax: 0.6, dec: 1, ann: ANN_E,
    letter: '(e)', name: 'p(IID-EDOT)', lDx: 9, lDy: 27, nDx: 17, nDy: 20, yTitle: 'Abs.', yTx: 36, yTy: -5, xTy: 37,
    leg: { c1: 139, c2: 68, y0: 11, step: 15.3, len: 28, n1: 10, font: 12 }, lw: 1.3, lw0: 1.5 },
  { key: 'f', L: 935, T: 386, R: 1299, B: 677, wl: WL_F, rows: ABS_F, labels: V_F, colors: COL_F, yt: YT_F, ymin: 0, ymax: 0.549, dec: 1, ann: ANN_F,
    letter: '(f)', name: 'p(IID-2EDOT)', lDx: 19, lDy: 26, nDx: 19, nDy: 20, yTitle: 'Abs.', yTx: 32, yTy: -6, xTy: 33,
    leg: { c1: 122, c2: 59, y0: 8, step: 13.6, len: 27, n1: 9, font: 11 }, lw: 1.2, lw0: 1.5 },
];

function makeDeco(p: any) {
  return {
    id: 'deco_' + p.key,
    afterDatasetsDraw(chart: any) {
      const { ctx, chartArea: a, scales } = chart;
      const x = scales.x, y = scales.y;
      ctx.save();
      // frame
      ctx.strokeStyle = '#000';
      ctx.lineWidth = 1.2;
      ctx.strokeRect(a.left, a.top, a.right - a.left, a.bottom - a.top);
      // minor ticks
      ctx.lineWidth = 1;
      ctx.beginPath();
      for (const v of X_MINOR) {
        const px = x.getPixelForValue(v);
        ctx.moveTo(px, a.bottom);
        ctx.lineTo(px, a.bottom + 3.5);
      }
      for (let i = 0; i < p.yt.length - 1; i++) {
        const v = (p.yt[i] + p.yt[i + 1]) / 2;
        const py = y.getPixelForValue(v);
        ctx.moveTo(a.left, py);
        ctx.lineTo(a.left - 3.5, py);
      }
      const lastMinor = p.yt[p.yt.length - 1] + (p.yt[1] - p.yt[0]) / 2;
      if (lastMinor <= p.ymax + 1e-9) {
        const py = y.getPixelForValue(lastMinor);
        ctx.moveTo(a.left, py);
        ctx.lineTo(a.left - 3.5, py);
      }
      ctx.stroke();
      // peak annotations
      ctx.fillStyle = '#222';
      ctx.strokeStyle = '#333';
      ctx.lineWidth = 1;
      ctx.font = `14px ${FONT}`;
      ctx.textAlign = 'center';
      ctx.textBaseline = 'middle';
      for (const an of p.ann) {
        ctx.fillText(an.t, x.getPixelForValue(an.x), y.getPixelForValue(an.y));
        ctx.beginPath();
        ctx.moveTo(x.getPixelForValue(an.x1), y.getPixelForValue(an.y1));
        ctx.lineTo(x.getPixelForValue(an.x2), y.getPixelForValue(an.y2));
        ctx.stroke();
      }
      // legend (two columns)
      const lg = p.leg;
      ctx.font = `${lg.font}px ${FONT}`;
      ctx.textAlign = 'left';
      chart.data.datasets.forEach((ds: any, i: number) => {
        const col = i < lg.n1 ? 0 : 1;
        const row = col === 0 ? i : i - lg.n1;
        const lx = a.right - (col === 0 ? lg.c1 : lg.c2);
        const ly = a.top + lg.y0 + row * lg.step;
        ctx.strokeStyle = ds.borderColor;
        ctx.lineWidth = Math.max(1.6, ds.borderWidth);
        ctx.beginPath();
        ctx.moveTo(lx, ly);
        ctx.lineTo(lx + lg.len, ly);
        ctx.stroke();
        ctx.fillStyle = '#222';
        ctx.fillText(ds.label, lx + lg.len + 2, ly + 0.5);
      });
      // panel letter and polymer name
      ctx.fillStyle = '#111';
      ctx.font = `22px ${FONT}`;
      ctx.textAlign = 'left';
      ctx.fillText(p.letter, a.left + p.lDx, a.top + p.lDy);
      ctx.fillText(p.name, a.left + p.nDx, a.bottom - p.nDy);
      // axis titles
      ctx.fillStyle = '#222';
      ctx.font = `15px ${FONT}`;
      ctx.textAlign = 'center';
      ctx.fillText('Wavelength (nm)', (a.left + a.right) / 2, a.bottom + p.xTy);
      ctx.save();
      ctx.translate(a.left - p.yTx, (a.top + a.bottom) / 2 + p.yTy);
      ctx.rotate(-Math.PI / 2);
      ctx.font = `14px ${FONT}`;
      ctx.fillText(p.yTitle, 0, 0);
      ctx.restore();
      ctx.restore();
    },
  };
}

function Panel({ p }: { p: any }) {
  const ref = useRef<HTMLCanvasElement>(null);
  useEffect(() => {
    if (!ref.current) return;
    const datasets = p.rows.map((r: number[], i: number) => ({
      label: p.labels[i],
      data: r.map((v: number, j: number) => ({ x: p.wl[j], y: v })),
      borderColor: p.colors[i],
      backgroundColor: p.colors[i],
      borderWidth: i === 0 ? p.lw0 : p.lw,
      pointRadius: 0,
      pointHoverRadius: 0,
      fill: false,
      cubicInterpolationMode: 'monotone',
    }));
    const tickFont = { family: FONT, size: 11.5 };
    const chart = new Chart(ref.current, {
      type: 'line',
      data: { datasets },
      plugins: [makeDeco(p)],
      options: {
        animation: false,
        responsive: true,
        maintainAspectRatio: false,
        events: [],
        layout: { padding: { left: 0, top: PADT, right: PADR, bottom: 0 } },
        plugins: { legend: { display: false }, tooltip: { enabled: false }, title: { display: false } },
        scales: {
          x: {
            type: 'linear',
            min: 330,
            max: 1600,
            afterBuildTicks: (s: any) => { s.ticks = X_TICKS.map((v) => ({ value: v })); },
            afterFit: (s: any) => { s.height = XAH; },
            grid: { display: true, drawOnChartArea: false, drawTicks: true, tickLength: 6, tickColor: '#000', tickWidth: 1 },
            border: { display: true, color: '#000', width: 1.2 },
            ticks: { font: tickFont, color: '#222', padding: 3, maxRotation: 0, autoSkip: false, callback: (v: any) => String(v) },
          },
          y: {
            type: 'linear',
            min: p.ymin,
            max: p.ymax,
            afterBuildTicks: (s: any) => { s.ticks = p.yt.map((v: number) => ({ value: v })); },
            afterFit: (s: any) => { s.width = AXW; },
            grid: { display: true, drawOnChartArea: false, drawTicks: true, tickLength: 6, tickColor: '#000', tickWidth: 1 },
            border: { display: true, color: '#000', width: 1.2 },
            ticks: { font: tickFont, color: '#222', padding: 2, autoSkip: false, callback: (v: any) => Number(v).toFixed(p.dec) },
          },
        },
      } as any,
    });
    return () => chart.destroy();
  }, [p]);
  const left = p.L - AXW;
  const top = p.T - PADT;
  const width = AXW + (p.R - p.L) + PADR;
  const height = PADT + (p.B - p.T) + XAH;
  return (
    <div style={{ position: 'absolute', left, top, width, height }}>
      <canvas ref={ref} />
    </div>
  );
}

export default function App() {
  return (
    <div style={{ position: 'fixed', left: 0, top: 0, width: 1312, height: 722, background: '#fff', overflow: 'hidden' }}>
      {PANELS.map((p) => (
        <Panel key={p.key} p={p} />
      ))}
    </div>
  );
}
